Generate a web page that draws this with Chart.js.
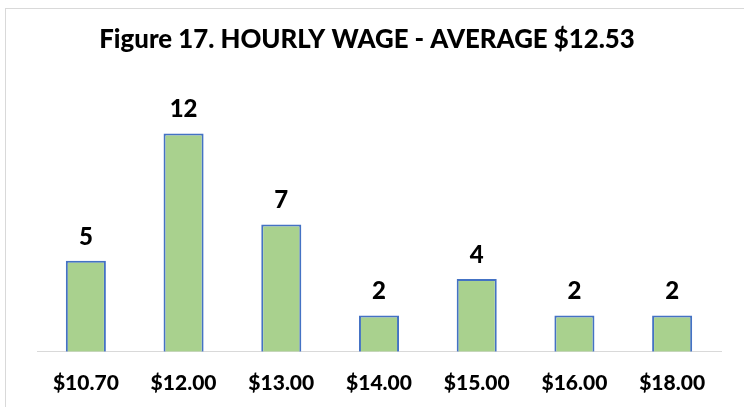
<!DOCTYPE html>
<html>
<head>
<meta charset="utf-8">
<script src="https://cdn.jsdelivr.net/npm/chart.js@4"></script>
<style>
    html, body { margin: 0; padding: 0; background: #fff; }
    #wrap { position: relative; width: 744px; height: 407px; }
</style>
</head>
<body>
<div id="wrap"><canvas id="wage-chart" width="744" height="407"></canvas></div>
<script>
// Chart data
const wageLabels = ['$10.70', '$12.00', '$13.00', '$14.00', '$15.00', '$16.00', '$18.00'];
const workerCounts = [5, 12, 7, 2, 4, 2, 2];
const chartTitle = 'Figure 17. HOURLY WAGE - AVERAGE $12.53';

const FONT = 'Lato, "Open Sans", sans-serif';

// Outer frame + title drawn on the canvas
const framePlugin = {
    id: 'frame',
    beforeDraw(chart) {
        const ctx = chart.ctx;
        ctx.save();
        ctx.strokeStyle = '#d9d9d9';
        ctx.lineWidth = 1;
        ctx.strokeRect(5.5, 8.5, chart.width + 10, chart.height + 10);
        ctx.restore();
    },
    afterDraw(chart) {
        const ctx = chart.ctx;
        ctx.save();
        ctx.fillStyle = '#000';
        ctx.font = '900 25.8px ' + FONT;
        ctx.textAlign = 'center';
        ctx.textBaseline = 'middle';
        ctx.fillText(chartTitle, 367, 40);
        ctx.restore();
    }
};

// Value labels above each bar
const valueLabels = {
    id: 'valueLabels',
    afterDatasetsDraw(chart) {
        const ctx = chart.ctx;
        const meta = chart.getDatasetMeta(0);
        ctx.save();
        ctx.fillStyle = '#000';
        ctx.font = '900 24px ' + FONT;
        ctx.textAlign = 'center';
        ctx.textBaseline = 'bottom';
        meta.data.forEach((bar, i) => {
            ctx.fillText(String(workerCounts[i]), bar.x, bar.y - 12);
        });
        ctx.restore();
    }
};

new Chart(document.getElementById('wage-chart'), {
    type: 'bar',
    data: {
        labels: wageLabels,
        datasets: [{
            data: workerCounts,
            backgroundColor: '#a9d18e',
            borderColor: '#4472c4',
            borderWidth: 2,
            barPercentage: 0.41,
            categoryPercentage: 1
        }]
    },
    options: {
        responsive: false,
        animation: false,
        layout: { padding: { left: 37, right: 23, top: 97, bottom: -8 } },
        plugins: {
            legend: { display: false },
            title: { display: false },
            tooltip: { enabled: false }
        },
        scales: {
            x: {
                grid: { display: false, drawTicks: false },
                border: { color: '#d9d9d9', width: 1 },
                ticks: {
                    color: '#000',
                    padding: 19,
                    maxRotation: 0,
                    font: { family: FONT, size: 21, weight: '900' }
                }
            },
            y: {
                display: false,
                min: 0,
                max: 14
            }
        }
    },
    plugins: [framePlugin, valueLabels]
});
</script>
</body>
</html>
